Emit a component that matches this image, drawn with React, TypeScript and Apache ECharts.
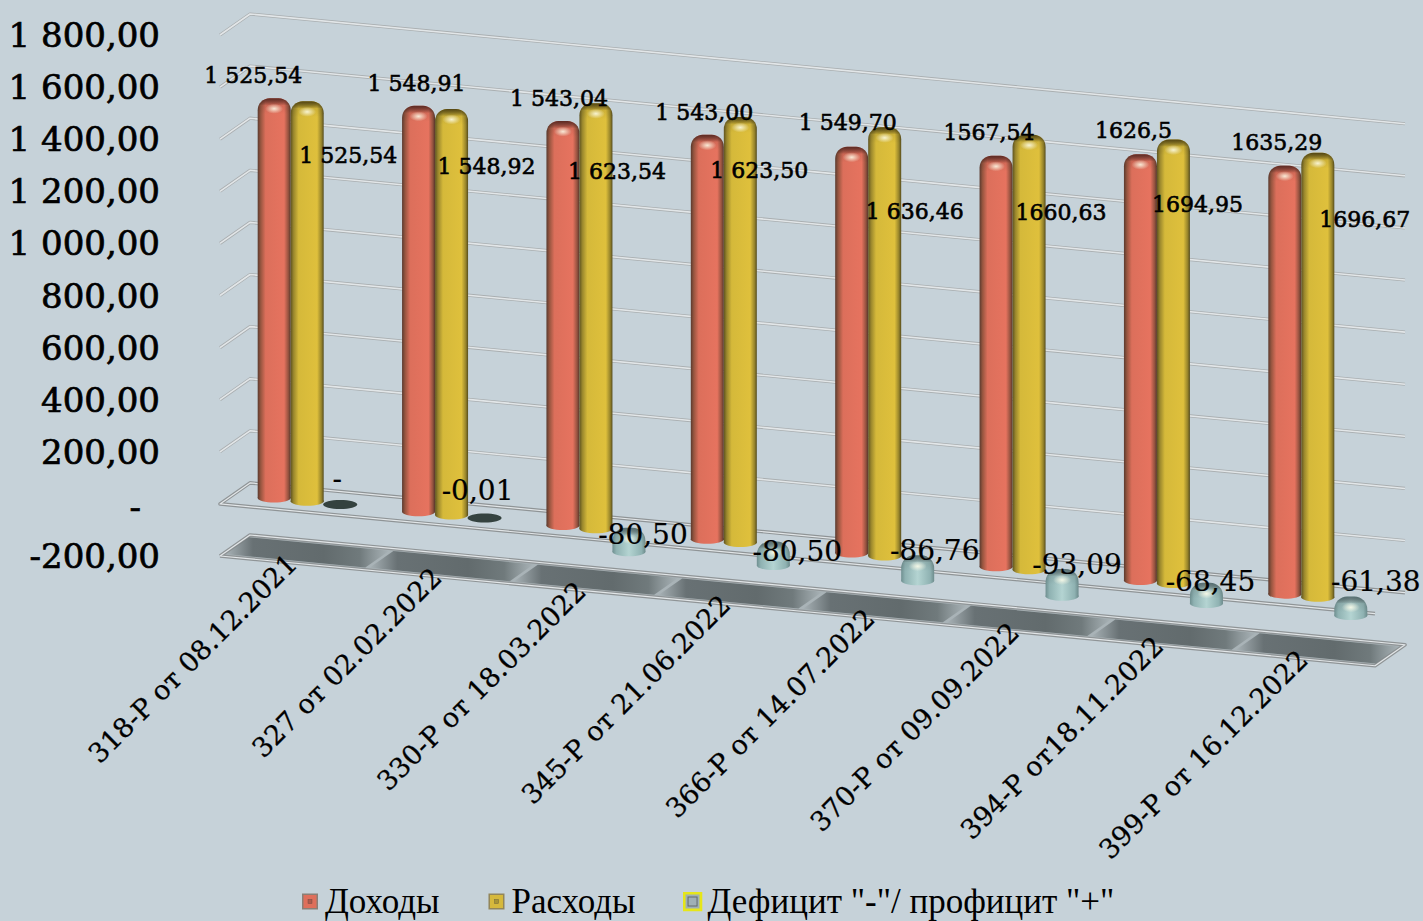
import React, { useEffect, useRef } from "react";
import * as echarts from "echarts";

const categories = ["318-Р от 08.12.2021", "327 от 02.02.2022", "330-Р от 18.03.2022", "345-Р от 21.06.2022", "366-Р от 14.07.2022", "370-Р от 09.09.2022", "394-Р от18.11.2022", "399-Р от 16.12.2022"];
const seriesNames = ["Доходы", "Расходы", 'Дефицит "-"/ профицит "+"'];
const incomeValues = [1525.54, 1548.91, 1543.04, 1543.0, 1549.7, 1567.54, 1626.5, 1635.29];
const expenseValues = [1525.54, 1548.92, 1623.54, 1623.5, 1636.46, 1660.63, 1694.95, 1696.67];
const balanceValues = [0, -0.01, -80.5, -80.5, -86.76, -93.09, -68.45, -61.38];
const incomeLabels = ["1 525,54", "1 548,91", "1 543,04", "1 543,00", "1 549,70", "1567,54", "1626,5", "1635,29"];
const expenseLabels = ["1 525,54", "1 548,92", "1 623,54", "1 623,50", "1 636,46", "1660,63", "1694,95", "1696,67"];
const balanceLabels = ["-", "-0,01", "-80,50", "-80,50", "-86,76", "-93,09", "-68,45", "-61,38"];
const yTicks = [-200, 0, 200, 400, 600, 800, 1000, 1200, 1400, 1600, 1800];

// label layout, pixel offsets from the top of the bar each label belongs to
const incomeLabelOffsets = [[-21, -24], [-2, -24], [-4, -24], [-3, -24], [-4, -26], [-7, -25], [-7, -25], [-8, -25]];
const expenseLabelOffsets = [[41, 53], [35, 56], [21, 67], [19, 52], [30, 83], [32, 76], [24, 63], [47, 65]];
const balanceLabelOffsets = [[-3, -25], [-7, -27], [14, 4], [24, 7], [17, -8], [15, -7], [4, -4], [25, -18]];

const BG = "#c6d2d9";
const SERIF = '"DejaVu Serif", serif';
const GRID = { left: 220, top: 35, width: 1155, height: 521 };
const SLOPE = 0.095;
const DEPTH_X = 30;
const DEPTH_Y = 23.85;
const BAR_SHIFT = 33 / 144.375;
const BAR_W = 33;

const H = (stops: [number, string][]) =>
  new echarts.graphic.LinearGradient(0, 0, 1, 0, stops.map(([offset, color]) => ({ offset, color })));
const V = (stops: [number, string][]) =>
  new echarts.graphic.LinearGradient(0, 0, 0, 1, stops.map(([offset, color]) => ({ offset, color })));

// a point of the tilted chart box: u = pixels along the front edge, depth 0 = front, 1 = back
function plane(api: any, left: number, u: number, value: number, depth: number) {
  const y = api.coord([0, value])[1];
  const x = left + u + DEPTH_X * depth;
  return [x, y + (x - left) * SLOPE - DEPTH_Y * depth];
}
function barPoint(api: any, cat: number, value: number, left: number, shift: number) {
  const band = api.size([1, 0])[0];
  const cx = api.coord([cat, value])[0] + shift * band;
  return plane(api, left, cx - left, value, 0.5);
}

const palettes: any = {
  red: {
    body: [[0, "#5a3a2e"], [0.09, "#96553f"], [0.24, "#dc6f5b"], [0.8, "#e6735f"], [0.93, "#94523f"], [1, "#55362a"]],
    rim: "rgba(70,30,25,0.85)",
  },
  yellow: {
    body: [[0, "#5f5420"], [0.09, "#9a872d"], [0.24, "#d5b93a"], [0.8, "#dfc03c"], [0.93, "#97842b"], [1, "#564c1c"]],
    rim: "rgba(70,58,15,0.9)",
  },
  teal: {
    body: [[0, "#6f8f90"], [0.12, "#8fb2b2"], [0.5, "#b4d4d2"], [0.88, "#8fb2b2"], [1, "#6d8b8c"]],
    rim: "rgba(70,90,95,0.8)",
  },
};

function cylinder(x: number, yTop: number, yBase: number, pal: any, dome: number, radius: number) {
  const w = BAR_W;
  const left = x - w / 2;
  return [
    { type: "ellipse", shape: { cx: x, cy: yBase, rx: w / 2, ry: 4.5 }, style: { fill: H(pal.body) } },
    { type: "rect", shape: { x: left, y: yTop - dome, width: w, height: yBase - yTop + dome, r: [radius, radius, 0, 0] }, style: { fill: H(pal.body) } },
    { type: "rect", shape: { x: left, y: yTop - dome, width: w, height: 16, r: [radius, radius, 0, 0] }, style: { fill: V([[0, pal.rim], [0.45, "rgba(0,0,0,0.08)"], [1, "rgba(0,0,0,0)"]]) } },
    {
      type: "ellipse",
      shape: { cx: x, cy: yTop + 8, rx: 9, ry: 5 },
      style: {
        fill: new echarts.graphic.RadialGradient(0.5, 0.5, 0.5, [
          { offset: 0, color: "rgba(255,255,235,0.85)" },
          { offset: 1, color: "rgba(255,255,235,0)" },
        ]),
      },
    },
  ];
}

function renderBar(paletteKey: string, shift: number) {
  return (params: any, api: any) => {
    const cat = api.value(0);
    const value = api.value(1);
    const left = params.coordSys.x;
    const top = barPoint(api, cat, value, left, shift);
    const zero = barPoint(api, cat, 0, left, shift);
    if (Math.abs(value) < 1) {
      return { type: "ellipse", shape: { cx: zero[0], cy: zero[1] + 1, rx: 17, ry: 4.5 }, style: { fill: "#34423f" } };
    }
    if (value < 0) {
      return { type: "group", children: cylinder(zero[0], zero[1], top[1], palettes[paletteKey], 3, 13) };
    }
    return { type: "group", children: cylinder(top[0], top[1] + 1, zero[1] + 1, palettes[paletteKey], 2.5, 12) };
  };
}

function renderGrid(params: any, api: any) {
  const value = api.value(0);
  const left = params.coordSys.x;
  const w = params.coordSys.width;
  const a = plane(api, left, 0, value, 0);
  const b = plane(api, left, 0, value, 1);
  const c = plane(api, left, w, value, 1);
  const d = plane(api, left, w, value, 0);
  const pts = value === -200 ? [a, b, c, d, a] : value === 0 ? [d, a, b, c] : [a, b, c];
  const floor = value <= 0;
  const dark = floor ? "#8f9496" : "#a9aeb0";
  const children: any[] = [];
  if (value === -200) {
    children.push({ type: "polygon", shape: { points: [a, b, c, d] }, style: { fill: "#a9b3b7" } });
  }
  children.push({ type: "polyline", shape: { points: pts }, style: { stroke: dark, lineWidth: floor ? 3.6 : 3.2, fill: "none", lineJoin: "round" } });
  children.push({ type: "polyline", shape: { points: pts }, style: { stroke: "#e2e6e8", lineWidth: floor ? 1.2 : 1.6, fill: "none", lineJoin: "round" } });
  return { type: "group", children };
}

function renderFloorPatch(params: any, api: any) {
  const cat = api.value(0);
  const left = params.coordSys.x;
  const band = api.size([1, 0])[0];
  const u0 = cat * band;
  const u1 = (cat + 1) * band;
  const pts = [
    plane(api, left, u0 + 2, -200, 0.1),
    plane(api, left, u0 + 2, -200, 0.9),
    plane(api, left, u1 - 2, -200, 0.9),
    plane(api, left, u1 - 2, -200, 0.1),
  ];
  return {
    type: "polygon",
    shape: { points: pts },
    style: {
      fill: H([[0, "rgba(104,113,116,0)"], [0.17, "#687174"], [0.6, "#626b6d"], [0.82, "#707a7c"], [1, "rgba(120,130,132,0)"]]),
    },
  };
}

function renderCategory(params: any, api: any) {
  const cat = api.value(0);
  const left = params.coordSys.x;
  const p = api.coord([cat, -200]);
  const pos = plane(api, left, p[0] - left, -200, 0);
  return {
    type: "text",
    x: pos[0],
    y: pos[1] - 4,
    rotation: Math.PI / 4,
    style: { text: categories[cat], textAlign: "right", textVerticalAlign: "middle", font: `27px ${SERIF}`, fill: "#000", stroke: "#000", lineWidth: 0.3 },
  };
}

const labelData: any[] = [];
[
  { texts: incomeLabels, values: incomeValues, offsets: incomeLabelOffsets, shift: -BAR_SHIFT, size: 22, weight: 0.6 },
  { texts: expenseLabels, values: expenseValues, offsets: expenseLabelOffsets, shift: 0, size: 22, weight: 0.6 },
  { texts: balanceLabels, values: balanceValues.map(() => 0), offsets: balanceLabelOffsets, shift: BAR_SHIFT, size: 28, weight: 0.2 },
].forEach((set) => {
  set.texts.forEach((text, i) => {
    labelData.push({ value: [i, set.values[i]], text, shift: set.shift, dx: set.offsets[i][0], dy: set.offsets[i][1], size: set.size, weight: set.weight });
  });
});

function renderLabel(params: any, api: any) {
  const item = labelData[params.dataIndex];
  const p = barPoint(api, api.value(0), api.value(1), params.coordSys.x, item.shift);
  return {
    type: "text",
    x: p[0] + item.dx,
    y: p[1] + item.dy,
    style: { text: item.text, textAlign: "center", textVerticalAlign: "middle", font: `${item.size}px ${SERIF}`, fill: "#000", stroke: "#000", lineWidth: item.weight },
  };
}

const icon = (border: string, fill: string, inner: string, full: boolean) => {
  const s = full ? 0 : 2;
  const size = 20 - 2 * s;
  const bw = full ? 3 : 1.5;
  const svg = `<svg xmlns="http://www.w3.org/2000/svg" width="20" height="20"><rect x="${s + bw / 2}" y="${s + bw / 2}" width="${size - bw}" height="${size - bw}" fill="${fill}" stroke="${border}" stroke-width="${bw}"/><rect x="${full ? 5.5 : 8}" y="${full ? 5.5 : 8}" width="${full ? 9 : 4}" height="${full ? 9 : 4}" fill="${inner}" stroke="rgba(60,60,60,0.6)" stroke-width="${full ? 1 : 0.5}"/></svg>`;
  return "image://data:image/svg+xml;charset=utf-8," + encodeURIComponent(svg);
};

export default function App() {
  const ref = useRef<HTMLDivElement>(null);
  useEffect(() => {
    document.body.style.margin = "0";
    document.body.style.background = BG;
    const chart = echarts.init(ref.current!, undefined, { renderer: "svg" });
    const catData = categories.map((_, i) => [i]);
    chart.setOption({
      animation: false,
      backgroundColor: BG,
      grid: { ...GRID, containLabel: false },
      legend: {
        left: 295,
        top: 879,
        itemWidth: 20,
        itemHeight: 20,
        itemGap: 47,
        selectedMode: false,
        textStyle: { fontFamily: '"Liberation Serif", serif', fontSize: 35, color: "#000" },
        data: [
          { name: seriesNames[0], icon: icon("#8a7f76", "#df6f5b", "#b05a4c", false) },
          { name: seriesNames[1], icon: icon("#92865a", "#d6b93c", "#a89535", false) },
          { name: seriesNames[2], icon: icon("#e6e619", "#9fb0b6", "#9fb0b6", true) },
        ],
      },
      xAxis: {
        type: "category",
        data: categories,
        axisLine: { show: false },
        axisTick: { show: false },
        axisLabel: { show: false },
        splitLine: { show: false },
      },
      yAxis: {
        type: "value",
        min: -200,
        max: 1800,
        interval: 200,
        axisLine: { show: false },
        axisTick: { show: false },
        splitLine: { show: false },
        axisLabel: {
          margin: 60,
          fontFamily: SERIF,
          fontSize: 34,
          color: "#000",
          textBorderColor: "#000",
          textBorderWidth: 0.7,
          rich: {
            dash: { fontFamily: SERIF, fontSize: 34, color: "#000", textBorderColor: "#000", textBorderWidth: 0.7, padding: [6, 19, 0, 0] },
          },
          formatter: (v: number) => {
            if (v === 0) return "{dash|-}";
            const sign = v < 0 ? "-" : "";
            const a = Math.abs(v);
            const th = Math.floor(a / 1000);
            const rest = a % 1000;
            return sign + (th ? `${th} ${String(rest).padStart(3, "0")}` : String(rest)) + ",00";
          },
        },
      },
      series: [
        { type: "custom", name: "grid", z: 1, silent: true, data: yTicks.map((v) => [v]), encode: { y: 0 }, renderItem: renderGrid },
        { type: "custom", name: "floor", z: 2, silent: true, data: catData, encode: { x: 0 }, renderItem: renderFloorPatch },
        { type: "custom", name: seriesNames[0], z: 3, silent: true, data: incomeValues.map((v, i) => [i, v]), encode: { x: 0, y: 1 }, renderItem: renderBar("red", -BAR_SHIFT), itemStyle: { color: "#df6f5b" } },
        { type: "custom", name: seriesNames[2], z: 3, silent: true, data: balanceValues.map((v, i) => [i, v]), encode: { x: 0, y: 1 }, renderItem: renderBar("teal", BAR_SHIFT), itemStyle: { color: "#9fb0b6" } },
        { type: "custom", name: seriesNames[1], z: 4, silent: true, data: expenseValues.map((v, i) => [i, v]), encode: { x: 0, y: 1 }, renderItem: renderBar("yellow", 0), itemStyle: { color: "#d6b93c" } },
        { type: "custom", name: "categories", z: 5, silent: true, data: catData, encode: { x: 0 }, renderItem: renderCategory },
        { type: "custom", name: "labels", z: 6, silent: true, data: labelData.map((d) => d.value), encode: { x: 0, y: 1 }, renderItem: renderLabel },
      ],
    });
    return () => chart.dispose();
  }, []);
  return <div ref={ref} style={{ width: 1423, height: 921 }} />;
}
